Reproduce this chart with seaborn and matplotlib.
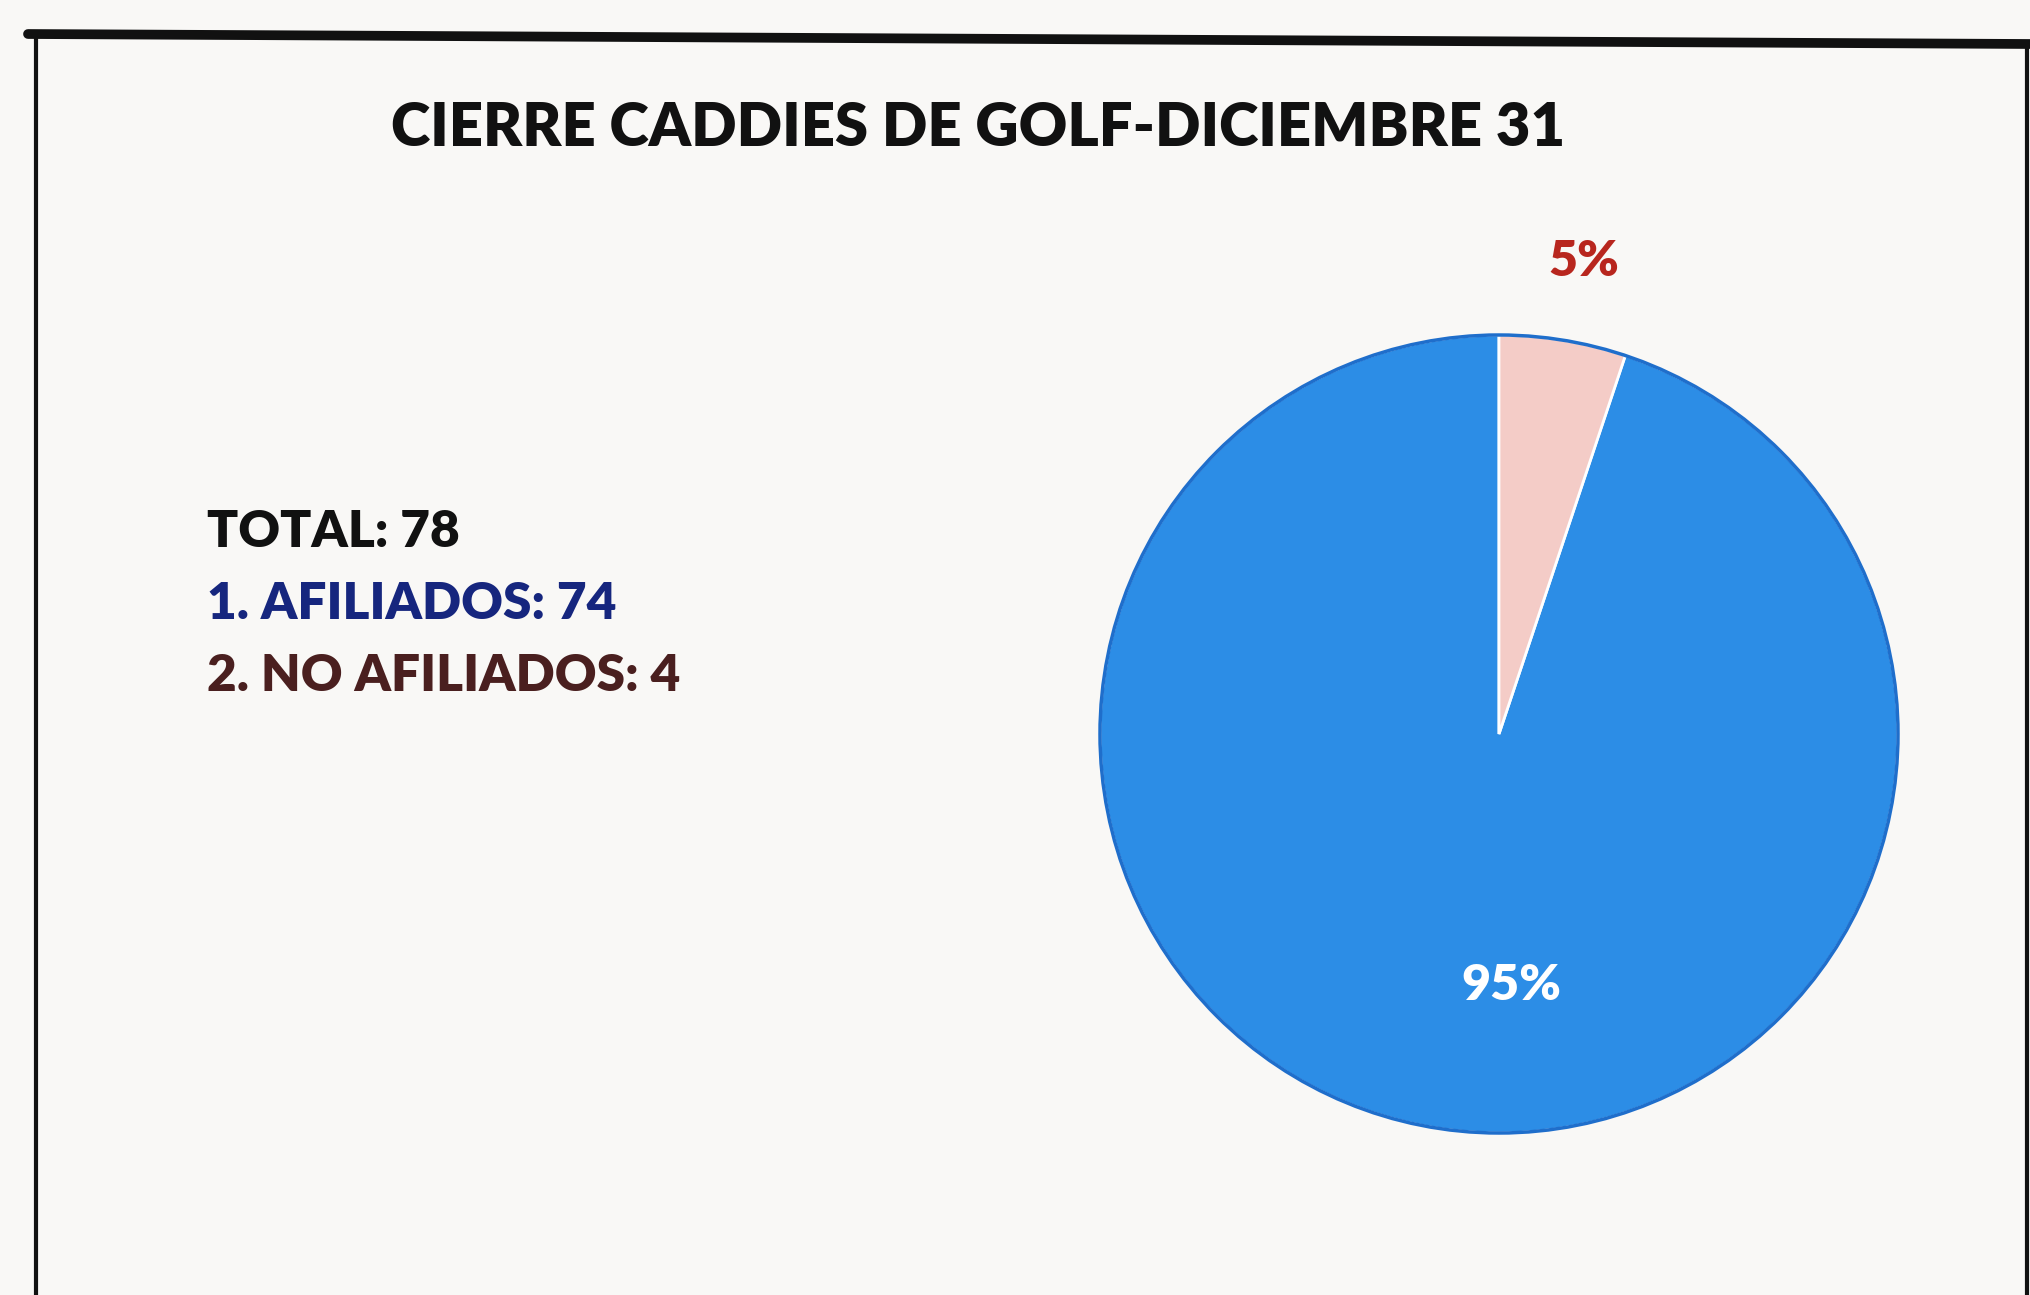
import matplotlib
matplotlib.use("Agg")
import matplotlib.pyplot as plt
import seaborn as sns
from matplotlib.lines import Line2D
from matplotlib.patches import Circle

# -------------------------
# Data
# -------------------------
title = "CIERRE CADDIES DE GOLF-DICIEMBRE 31"
categories = ["AFILIADOS", "NO AFILIADOS"]
counts = [74, 4]
total = sum(counts)
slice_colors = ["#2C8DE6", "#F4CCC7"]
label_colors = ["white", "#B8261E"]
legend_colors = ["#16267E", "#4A1F1F"]

sns.set_theme(style="white")
plt.rcParams['font.family'] = ['Lato', 'DejaVu Sans']

W, H = 2031, 1295
fig = plt.figure(figsize=(W / 100, H / 100), dpi=100)
fig.patch.set_facecolor("#F9F8F6")

# frame of the original chart (photo, slightly tilted top edge)
fig.add_artist(Line2D([28 / W, 1.0], [1 - 34 / H, 1 - 44 / H], color="#111111", lw=7))
fig.add_artist(Line2D([36 / W, 36 / W], [1 - 34 / H, 0], color="#111111", lw=3))
fig.add_artist(Line2D([2027 / W, 2027 / W], [1 - 44 / H, 0], color="#111111", lw=3))

fig.text(978 / W, 1 - 128 / H, title, ha="center", va="center",
         fontsize=43, fontweight="heavy", color="#111111")

# summary text on the left
lines = [f"TOTAL: {total}"] + [f"{i + 1}. {c}: {n}" for i, (c, n) in enumerate(zip(categories, counts))]
line_cols = ["#111111"] + legend_colors
for i, (txt, col) in enumerate(zip(lines, line_cols)):
    fig.text(207 / W, 1 - (532 + 72 * i) / H, txt, ha="left", va="center",
             fontsize=37, fontweight="heavy", color=col)

# -------------------------
# Pie
# -------------------------
cx, cy, r = 1499, 734, 403
ax = fig.add_axes([(cx - r) / W, (H - cy - r) / H, 2 * r / W, 2 * r / H])
wedges, texts, autotexts = ax.pie(
    counts, colors=slice_colors, startangle=90, counterclock=True,
    autopct="%1.0f%%", pctdistance=0.63,
    wedgeprops=dict(edgecolor="white", linewidth=2),
)
# darker rim like the original print
ax.add_patch(Circle((0, 0), 1.0, fill=False, edgecolor="#1F6ECB", lw=2.5, zorder=2))

for t, col in zip(autotexts, label_colors):
    t.set_color(col)
    t.set_fontsize(36)
    t.set_fontweight("heavy")
    t.set_zorder(5)
# 95% label sits near the bottom, 5% label outside the pie
autotexts[0].set_position((0.03, -0.63))
x, y = autotexts[1].get_position()
autotexts[1].set_position((x * 1.2 / 0.63 + 0.02, y * 1.2 / 0.63))
ax.set_xlim(-1.01, 1.01)
ax.set_ylim(-1.01, 1.01)
ax.set_aspect("equal")
ax.axis("off")

fig.savefig("out.png", dpi=100, facecolor=fig.get_facecolor())
